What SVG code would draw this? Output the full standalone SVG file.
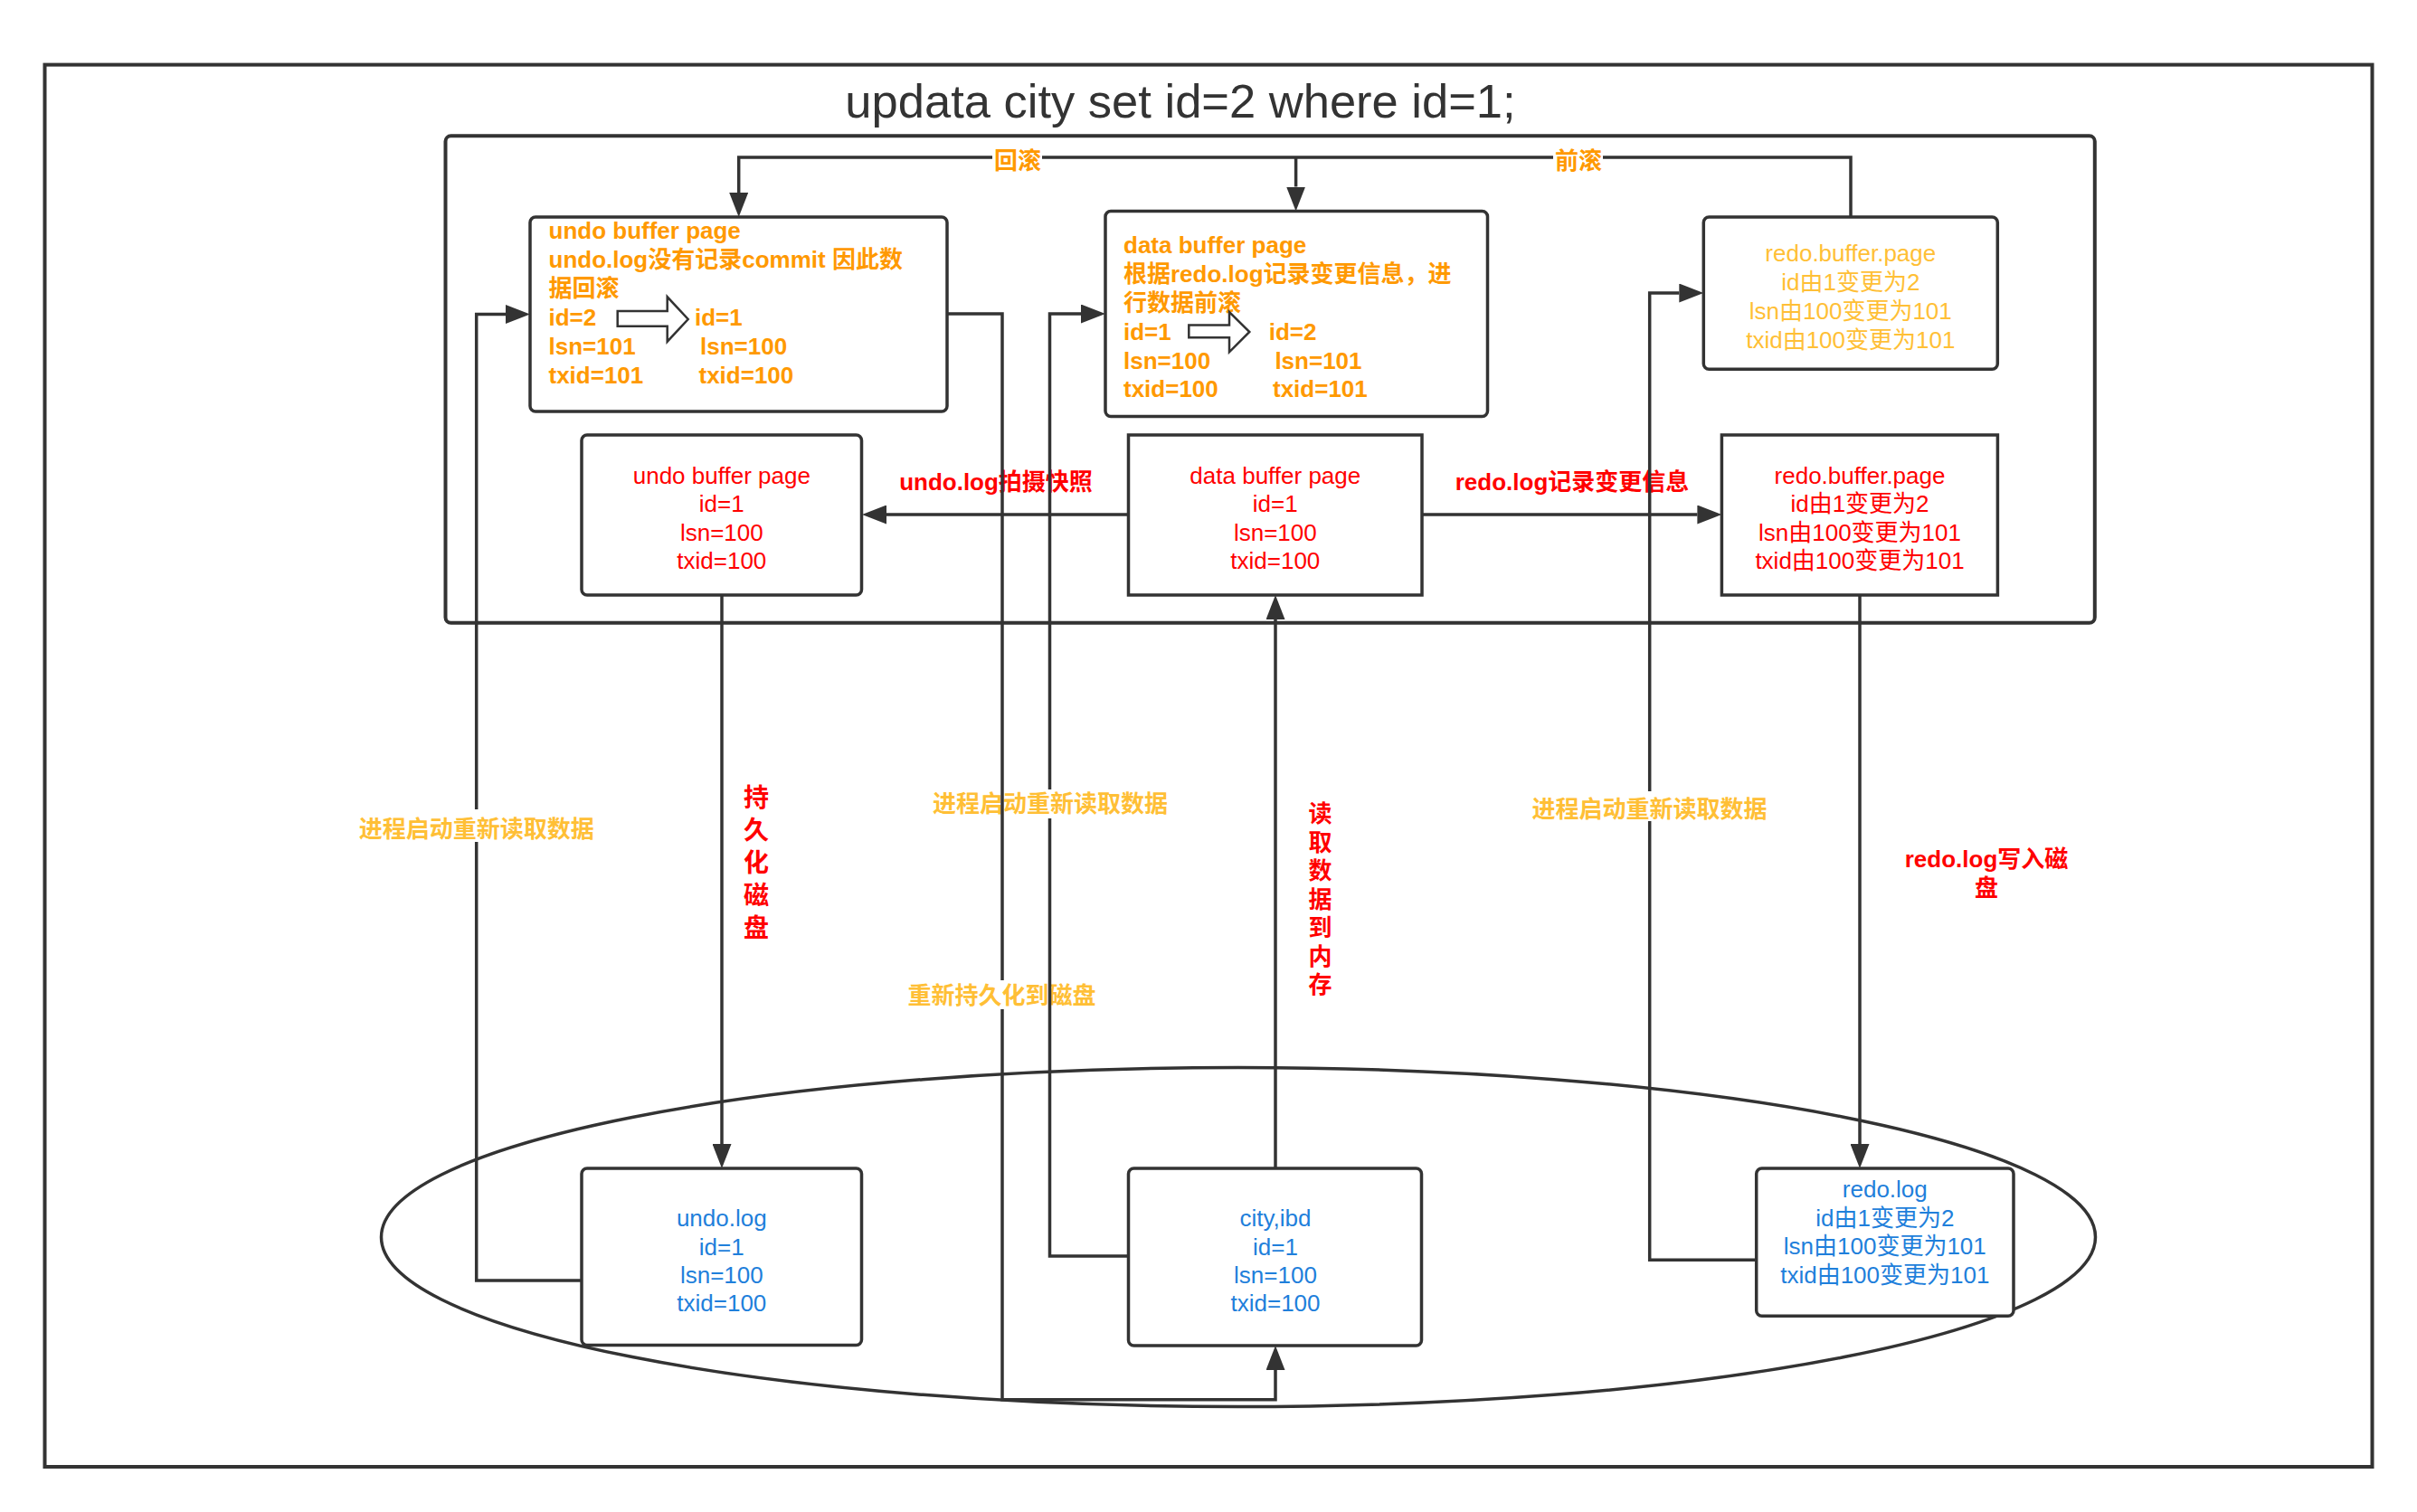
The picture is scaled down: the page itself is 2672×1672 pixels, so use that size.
<svg xmlns="http://www.w3.org/2000/svg" width="2672" height="1672" viewBox="0 0 2672 1672">
<style>
.frame{fill:none;stroke:#333;stroke-width:4}
.box{fill:#fff;stroke:#333;stroke-width:3.5}
.edge{fill:none;stroke:#333;stroke-width:3.5;marker-end:url(#arr)}
.hollow{fill:#fff;stroke:#333;stroke-width:2.5;stroke-linejoin:miter}
.t{font-family:"Liberation Sans","Noto Sans CJK SC",sans-serif;font-size:26px}
.b{font-weight:bold}
.m{text-anchor:middle}
.org{fill:#FF9900}
.yel{fill:#FFBF36}
.red{fill:#FF0000}
.blu{fill:#1F7FDB}
</style>
<defs>
<marker id="arr" markerUnits="userSpaceOnUse" markerWidth="28" markerHeight="21" viewBox="0 0 28 21" refX="0" refY="10.5" orient="auto">
<path d="M0,0 L27,10.5 L0,21 Z" fill="#333"/>
</marker>
</defs>
<rect x="0" y="0" width="2672" height="1672" fill="#fff"/>
<g id="outer-frame"><rect class="frame" x="49.5" y="71.6" width="2573" height="1550.4"/></g>
<g id="title"><text class="t" x="1305" y="130" text-anchor="middle" style="font-size:52.5px;fill:#333">updata city set id=2 where id=1;</text></g>
<g id="buffer-frame"><rect class="frame" x="492.5" y="150.3" width="1823.3" height="538.5" rx="6"/></g>
<g id="disk-ellipse"><ellipse cx="1369" cy="1368" rx="947.5" ry="187.5" fill="none" stroke="#333" stroke-width="3.5"/></g>

<g id="undo-buffer-rollback">
<rect class="box" x="586" y="240" width="461" height="215" rx="6"/>
<text class="t b org" x="606.5" y="263.5">undo buffer page</text>
<text class="t b org" x="606.5" y="295.5">undo.log没有记录commit 因此数</text>
<text class="t b org" x="606.5" y="327.5">据回滚</text>
<text class="t b org" x="606.5" y="359.5">id=2</text>
<text class="t b org" x="606.5" y="391.5">lsn=101</text>
<text class="t b org" x="606.5" y="423.5">txid=101</text>
<text class="t b org" x="768" y="359.5">id=1</text>
<text class="t b org" x="774" y="391.5">lsn=100</text>
<text class="t b org" x="772.5" y="423.5">txid=100</text>
<polygon class="hollow" points="682.7,344 737.7,344 737.7,328.3 760.7,353 737.7,377.7 737.7,360.7 682.7,360.7"/>
</g>

<g id="data-buffer-rollforward">
<rect class="box" x="1222" y="233.5" width="422.5" height="227" rx="6"/>
<text class="t b org" x="1242" y="279.5">data buffer page</text>
<text class="t b org" x="1242" y="312">根据redo.log记录变更信息，进</text>
<text class="t b org" x="1242" y="344">行数据前滚</text>
<text class="t b org" x="1242" y="375.5">id=1</text>
<text class="t b org" x="1242" y="407.5">lsn=100</text>
<text class="t b org" x="1242" y="439">txid=100</text>
<text class="t b org" x="1402.7" y="375.5">id=2</text>
<text class="t b org" x="1409.4" y="407.5">lsn=101</text>
<text class="t b org" x="1407" y="439">txid=101</text>
<polygon class="hollow" points="1314.3,359.5 1359,359.5 1359,345 1381.3,367 1359,389.3 1359,373.3 1314.3,373.3"/>
</g>

<g id="redo-buffer-top">
<rect class="box" x="1883.3" y="240" width="325" height="168.3" rx="6"/>
<text class="t m yel" x="2045.8" y="288.5">redo.buffer.page</text>
<text class="t m yel" x="2045.8" y="320.5">id由1变更为2</text>
<text class="t m yel" x="2045.8" y="352.5">lsn由100变更为101</text>
<text class="t m yel" x="2045.8" y="384.5">txid由100变更为101</text>
</g>

<g id="undo-buffer-page">
<rect class="box" x="643" y="481" width="309.5" height="177" rx="6"/>
<text class="t m red" x="797.8" y="534.5">undo buffer page</text>
<text class="t m red" x="797.8" y="566">id=1</text>
<text class="t m red" x="797.8" y="597.5">lsn=100</text>
<text class="t m red" x="797.8" y="629">txid=100</text>
</g>

<g id="data-buffer-page">
<rect class="box" x="1247.5" y="481" width="324.5" height="177"/>
<text class="t m red" x="1409.8" y="534.5">data buffer page</text>
<text class="t m red" x="1409.8" y="566">id=1</text>
<text class="t m red" x="1409.8" y="597.5">lsn=100</text>
<text class="t m red" x="1409.8" y="629">txid=100</text>
</g>

<g id="redo-buffer-page">
<rect class="box" x="1903.4" y="481" width="305" height="177"/>
<text class="t m red" x="2056" y="534.5">redo.buffer.page</text>
<text class="t m red" x="2056" y="566">id由1变更为2</text>
<text class="t m red" x="2056" y="597.5">lsn由100变更为101</text>
<text class="t m red" x="2056" y="629">txid由100变更为101</text>
</g>

<g id="undo-log">
<rect class="box" x="643" y="1292" width="309.5" height="195.4" rx="6"/>
<text class="t m blu" x="797.8" y="1356">undo.log</text>
<text class="t m blu" x="797.8" y="1387.5">id=1</text>
<text class="t m blu" x="797.8" y="1418.5">lsn=100</text>
<text class="t m blu" x="797.8" y="1450">txid=100</text>
</g>

<g id="city-ibd">
<rect class="box" x="1247.5" y="1292" width="324" height="196" rx="6"/>
<text class="t m blu" x="1410" y="1356">city,ibd</text>
<text class="t m blu" x="1410" y="1387.5">id=1</text>
<text class="t m blu" x="1410" y="1418.5">lsn=100</text>
<text class="t m blu" x="1410" y="1450">txid=100</text>
</g>

<g id="redo-log">
<rect class="box" x="1941.7" y="1292" width="284.3" height="163.3" rx="6"/>
<text class="t m blu" x="2083.8" y="1324">redo.log</text>
<text class="t m blu" x="2083.8" y="1355.5">id由1变更为2</text>
<text class="t m blu" x="2083.8" y="1387">lsn由100变更为101</text>
<text class="t m blu" x="2083.8" y="1418.5">txid由100变更为101</text>
</g>

<g id="connectors">
<g id="connector-labels">
<text class="t b m org" x="1125" y="187">回滚</text>
<text class="t b m org" x="1745" y="187">前滚</text>
<text class="t b m red" x="1101" y="542">undo.log拍摄快照</text>
<text class="t b m red" x="1738" y="542">redo.log记录变更信息</text>
<text class="t b m red" style="font-size:28px" x="836"><tspan x="836" y="892">持</tspan><tspan x="836" y="928">久</tspan><tspan x="836" y="964">化</tspan><tspan x="836" y="1000">磁</tspan><tspan x="836" y="1036">盘</tspan></text>
<text class="t b m red" x="1459.5"><tspan x="1459.5" y="909">读</tspan><tspan x="1459.5" y="940.5">取</tspan><tspan x="1459.5" y="972">数</tspan><tspan x="1459.5" y="1003.5">据</tspan><tspan x="1459.5" y="1035">到</tspan><tspan x="1459.5" y="1066.5">内</tspan><tspan x="1459.5" y="1098">存</tspan></text>
<text class="t b m red" x="2196"><tspan x="2196" y="959">redo.log写入磁</tspan><tspan x="2196" y="991">盘</tspan></text>
<text class="t b m yel" x="526.7" y="926">进程启动重新读取数据</text>
<text class="t b m yel" x="1161" y="898">进程启动重新读取数据</text>
<text class="t b m yel" x="1823.5" y="904">进程启动重新读取数据</text>
<text class="t b m yel" x="1107.6" y="1110">重新持久化到磁盘</text>
</g>
<path id="e-rollback" class="edge" d="M2046,240 V174 H1772 M1717,174 H1152 M1097,174 H816.7 V213"/>
<path id="e-rollforward" class="edge" d="M1432.6,174 V206.5"/>
<path id="e-undo-snapshot" class="edge" d="M1247.5,569 H980"/>
<path id="e-redo-record" class="edge" d="M1572,569 H1876.4"/>
<path id="e-undo-persist" class="edge" d="M798,658 V1265"/>
<path id="e-read-data" class="edge" d="M1410,1292 V685"/>
<path id="e-redo-write" class="edge" d="M2056,658 V1265"/>
<path id="e-undo-restart" class="edge" d="M643,1416 H526.7 V931 M526.7,895 V347.5 H559"/>
<path id="e-data-restart" class="edge" d="M1247.5,1389 H1160.5 V905 M1160.5,873 V347 H1195"/>
<path id="e-redo-restart" class="edge" d="M1941.7,1393.3 H1823.7 V908 M1823.7,875 V324 H1856.3"/>
<path id="e-repersist" class="edge" d="M1047,347 H1108 V1084 M1108,1116 V1547.7 H1410 V1515"/>
</g>
</svg>
